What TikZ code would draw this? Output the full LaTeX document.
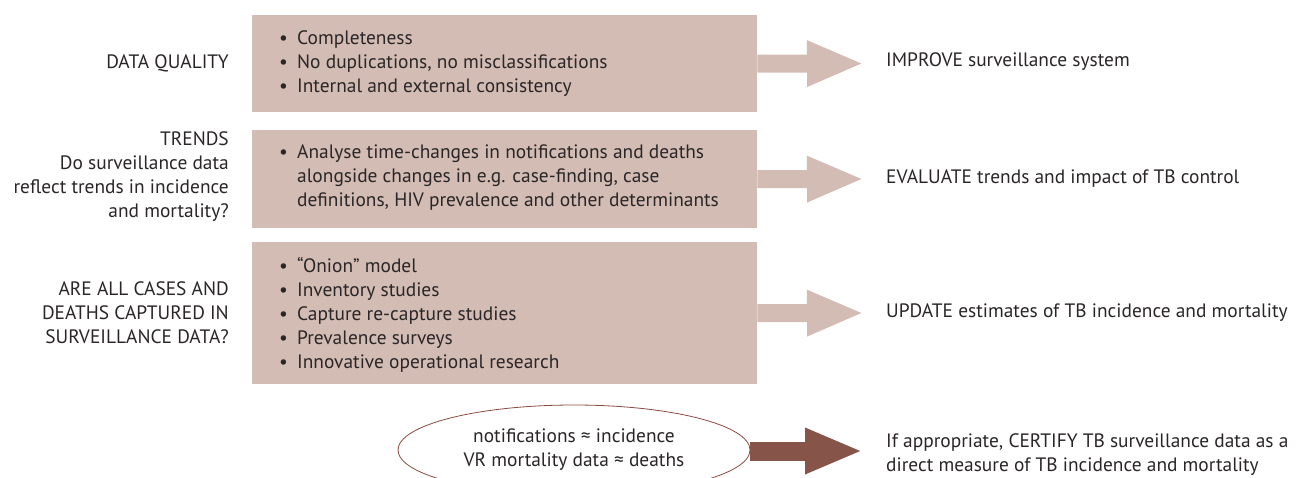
\documentclass[tikz,border=0pt]{standalone}
\usepackage{fontspec}
\setmainfont{PT Sans}
\usetikzlibrary{arrows.meta,shapes.geometric}
\definecolor{boxfill}{HTML}{D3BCB4}
\definecolor{darkarr}{HTML}{87544A}
\definecolor{ellline}{HTML}{8A4B41}
\definecolor{txt}{HTML}{2A2627}
\newcommand{\bul}{\makebox[18pt][l]{\textbullet}}
\newcommand{\ind}{\hspace*{18pt}}
\begin{document}
\begin{tikzpicture}[x=1pt,y=-1pt,
  every node/.style={text=txt, font=\fontsize{19.4}{24}\selectfont, inner sep=0pt},
  box/.style={fill=boxfill, minimum width=505pt, anchor=north west},
  list/.style={anchor=west, align=left},
  lefttxt/.style={anchor=east, align=right},
  righttxt/.style={anchor=west, align=left},
  lightarrow/.style={draw=boxfill, line width=18pt, -{Triangle[length=57pt,width=42pt]}},
  darkarrow/.style={draw=darkarr, line width=19pt, -{Triangle[length=58pt,width=42pt]}},
  oval/.style={ellipse, draw=ellline, line width=0.8pt, minimum width=352pt, minimum height=90pt, align=center}
]
\useasboundingbox (0,0) rectangle (1296,477);
\clip (0,0) rectangle (1296,477);

% boxes
\node[box, minimum height=97pt] (b1) at (252,15) {};
\node[box, minimum height=98pt] (b2) at (252,130) {};
\node[box, minimum height=142pt] (b3) at (252,242) {};

% box texts
\node[list] (l1) at (279,64) {\bul Completeness\\ \bul No duplications, no misclassifications\\ \bul Internal and external consistency};
\node[list] (l2) at (279,178) {\bul Analyse time-changes in notifications and deaths\\ \ind alongside changes in e.g. case-finding, case\\ \ind definitions, HIV prevalence and other determinants};
\node[list] (l3) at (279,315) {\bul “Onion” model\\ \bul Inventory studies\\ \bul Capture re-capture studies\\ \bul Prevalence surveys\\ \bul Innovative operational research};

% left labels
\node[lefttxt] (q1) at (229,63) {DATA QUALITY};
\node[lefttxt] (q2) at (229,177) {TRENDS\\ Do surveillance data\\ reflect trends in incidence\\ and mortality?};
\node[lefttxt] (q3) at (229,313) {ARE ALL CASES AND\\ DEATHS CAPTURED IN\\ SURVEILLANCE DATA?};

% right labels
\node[righttxt] (r1) at (886,62) {IMPROVE surveillance system};
\node[righttxt] (r2) at (886,179) {EVALUATE trends and impact of TB control};
\node[righttxt] (r3) at (886,313) {UPDATE estimates of TB incidence and mortality};
\node[righttxt] (r4) at (886,455) {If appropriate, CERTIFY TB surveillance data as a\\ direct measure of TB incidence and mortality};

% ellipse
\node[oval] (e) at (574,450) {notifications ≈ incidence\\ VR mortality data ≈ deaths};

% arrow tips
\coordinate (t1) at (864,63.5);
\coordinate (t2) at (864,179);
\coordinate (t3) at (864,313);
\coordinate (t4) at (863,451);

\draw[lightarrow] (b1.east) -- (t1);
\draw[lightarrow] (b2.east) -- (t2);
\draw[lightarrow] (b3.east) -- (t3);
\draw[darkarrow] (e.east |- t4) -- (t4);
\end{tikzpicture}
\end{document}
